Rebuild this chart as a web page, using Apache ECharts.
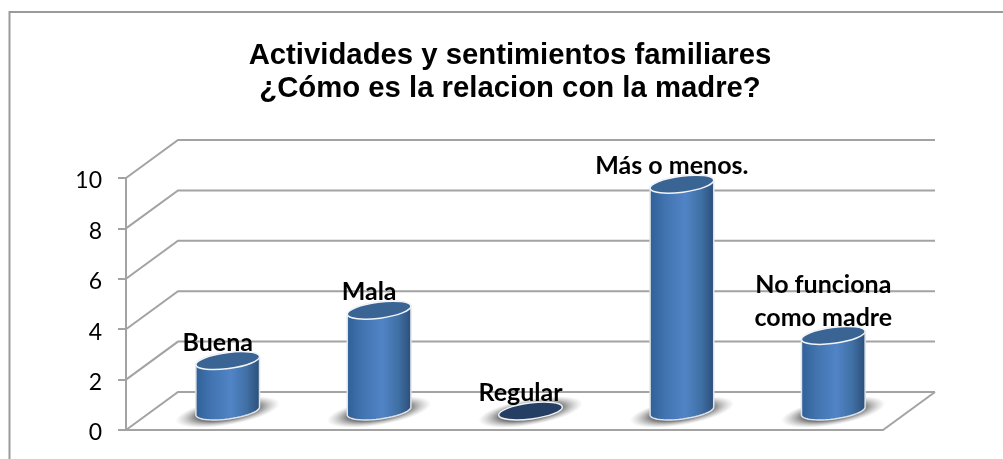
<!DOCTYPE html>
<html><head><meta charset="utf-8">
<style>html,body{margin:0;padding:0;background:#fff}#c{width:1003px;height:459px}</style>
<script src="https://cdn.jsdelivr.net/npm/echarts@6/dist/echarts.min.js"></script>
</head><body><div id="c"></div>
<script>
const titleText = 'Actividades y sentimientos familiares\n¿Cómo es la relacion con la madre?';
const categories = ['Buena', 'Mala', 'Regular', 'Más o menos.', 'No funciona\ncomo madre'];
const values = [2, 4, 0, 9, 3];
const yTicks = [0, 2, 4, 6, 8, 10];

const depthX = 52, depthY = 38, tilt = -7.5 * Math.PI / 180;
const gridColor = '#a3a3a3';

function ellPt(cx, cy, rx, ry, t) {
  const x = rx * Math.cos(t), y = ry * Math.sin(t);
  return [cx + x * Math.cos(tilt) - y * Math.sin(tilt), cy + x * Math.sin(tilt) + y * Math.cos(tilt)];
}
function renderWall(params, api) {
  const y0 = api.coord([0, api.value(1)])[1];
  const cs = params.coordSys;
  const x0 = cs.x, x1 = cs.x + cs.width;
  const children = [{
    type: 'polyline',
    shape: { points: [[x0, y0], [x0 + depthX, y0 - depthY], [x1 + depthX, y0 - depthY]] },
    style: { fill: null, stroke: gridColor, lineWidth: 2 }
  }];
  if (api.value(1) === 0) {
    children.push({
      type: 'line',
      shape: { x1: x1, y1: y0, x2: x1 + depthX, y2: y0 - depthY },
      style: { stroke: gridColor, lineWidth: 2 }
    });
  }
  return { type: 'group', children };
}
function renderCyl(params, api) {
  const i = api.value(0), v = api.value(1);
  const p0 = api.coord([i, 0]), p1 = api.coord([i, v]);
  const cx = p0[0] + depthX / 2, by = p0[1] - depthY / 2, ty = p1[1] - depthY / 2;
  const rx = api.size([1, 0])[0] * 0.212, ry = 8;
  const children = [];
  const sy = 0.25, sr = rx * 1.65;
  children.push({
    type: 'circle', shape: { cx: 0, cy: 0, r: sr }, x: cx, y: by + 1, scaleX: 1, scaleY: sy, rotation: 0.17,
    style: { fill: { type: 'radial', x: 0.5, y: 0.5, r: 0.5, colorStops: [
      { offset: 0, color: 'rgba(70,70,70,1)' }, { offset: 0.6, color: 'rgba(100,100,100,0.85)' }, { offset: 1, color: 'rgba(170,170,170,0)' }] } }
  });
  if (v > 0) {
    const pts = [];
    for (let k = 0; k <= 24; k++) pts.push(ellPt(cx, by, rx, ry, Math.PI - Math.PI * k / 24));
    for (let k = 0; k <= 24; k++) pts.push(ellPt(cx, ty, rx, ry, -Math.PI * k / 24));
    children.push({
      type: 'polygon', shape: { points: pts },
      style: { stroke: '#dfe4ea', lineWidth: 1.5, fill: { type: 'linear', x: 0, y: 0, x2: 1, y2: 0, colorStops: [
        { offset: 0, color: '#2f5f96' }, { offset: 0.25, color: '#4274b0' }, { offset: 0.55, color: '#5184c6' },
        { offset: 0.8, color: '#3f6fa3' }, { offset: 1, color: '#2b4d78' }] } }
    });
  }
  children.push({
    type: 'ellipse', shape: { cx: cx, cy: ty, rx: rx, ry: ry }, rotation: -tilt, originX: cx, originY: ty,
    style: { fill: v > 0 ? '#3a6493' : '#243f63', stroke: '#f2f4f7', lineWidth: 1.5 }
  });
  children.push({
    type: 'text',
    style: { x: cx - 10, y: ty - 18 - (String(categories[i]).includes('\n') ? 16 : 0), text: categories[i], align: 'center', verticalAlign: 'middle',
      font: 'bold 25px Lato, "Open Sans", sans-serif', fill: '#000', lineHeight: 33 }
  });
  return { type: 'group', children };
}

const chart = echarts.init(document.getElementById('c'), null, { renderer: 'canvas' });
chart.setOption({
  animation: false,
  backgroundColor: '#fff',
  title: {
    text: titleText, left: 505, top: 34, textAlign: 'center',
    textStyle: { fontFamily: '"Liberation Sans", Arial, sans-serif', fontWeight: 'bold', fontSize: 29.3, lineHeight: 33, color: '#000' }
  },
  graphic: [{ type: 'rect', silent: true, z: -1, shape: { x: 9.5, y: 12, width: 1100, height: 500 },
    style: { fill: null, stroke: '#9a9a9a', lineWidth: 2 } }],
  grid: { left: 126, right: 120, top: 178, bottom: 29 },
  xAxis: { type: 'category', data: categories, axisTick: { show: false }, axisLabel: { show: false },
    axisLine: { lineStyle: { color: gridColor, width: 2 } } },
  yAxis: { type: 'value', min: 0, max: 10, interval: 2, splitLine: { show: false },
    axisLine: { show: true, lineStyle: { color: gridColor, width: 2 } },
    axisTick: { show: true, length: 8, lineStyle: { color: gridColor, width: 2 } },
    axisLabel: { margin: 24, color: '#000', fontFamily: 'Lato, "Open Sans", sans-serif', fontSize: 23, verticalAlign: 'top', lineHeight: 6 } },
  series: [
    { type: 'custom', name: 'wall', silent: true, clip: false, z: 1, renderItem: renderWall,
      data: yTicks.map(t => [0, t]), encode: { x: 0, y: 1 } },
    { type: 'custom', name: 'valores', silent: true, clip: false, z: 2, renderItem: renderCyl,
      data: values.map((v, i) => [i, v]), encode: { x: 0, y: 1 } }
  ]
});
</script></body></html>
